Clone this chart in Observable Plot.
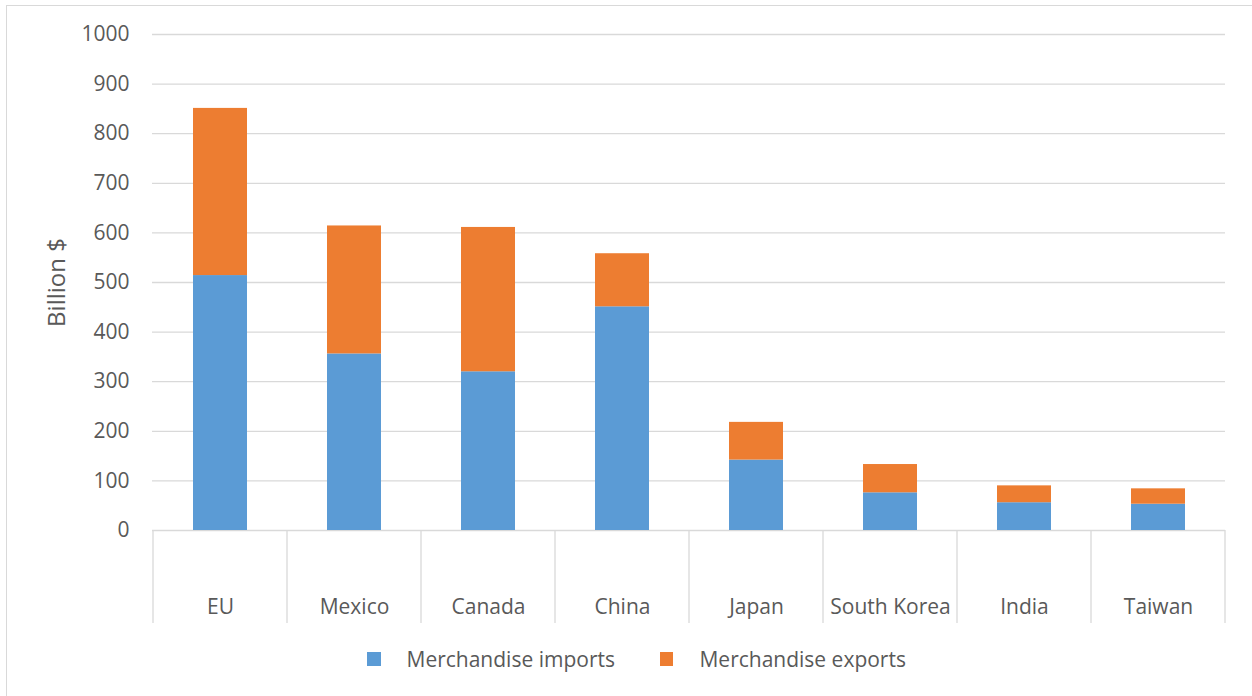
<!DOCTYPE html>
<html>
<head>
<meta charset="utf-8">
<script src="https://cdn.jsdelivr.net/npm/d3@7"></script>
<script src="https://cdn.jsdelivr.net/npm/@observablehq/plot@0.6"></script>
<style>
  html, body { margin: 0; padding: 0; background: #fff; overflow: hidden; }
  #wrap { position: relative; width: 1252px; height: 696px; overflow: hidden; font-family: "Open Sans", sans-serif; color: #595959; }
  #border { position: absolute; left: 6px; top: 5px; width: 1400px; height: 900px; border-left: 1.5px solid #d9d9d9; border-top: 1.5px solid #d9d9d9; }
  #chart { position: absolute; left: 0; top: 0; }
  #legend { position: absolute; left: 367px; top: 645px; display: flex; align-items: center; font-size: 21px; white-space: nowrap; }
  .item { display: flex; align-items: center; margin-right: 45px; }
  .sw { width: 13.5px; height: 13.5px; margin-right: 26px; }
</style>
</head>
<body>
<div id="wrap">
  <div id="border"></div>
  <div id="chart"></div>
  <div id="legend"></div>
</div>
<script>
const categories = ["EU", "Mexico", "Canada", "China", "Japan", "South Korea", "India", "Taiwan"];
const seriesNames = ["Merchandise imports", "Merchandise exports"];
const seriesColors = ["#5B9BD5", "#ED7D31"];
const imports = [514, 356, 320, 451, 142, 76, 56, 53];
const exports = [337, 258, 291, 107, 76, 57, 34, 31];
const yTicks = [0, 100, 200, 300, 400, 500, 600, 700, 800, 900, 1000];
const yLabel = "Billion $";

const data = [];
categories.forEach((c, i) => {
  data.push({country: c, series: seriesNames[0], value: imports[i]});
  data.push({country: c, series: seriesNames[1], value: exports[i]});
});

const grid = "#d9d9d9";

function separators(index, scales, values, dimensions) {
  const x = scales.x, y = scales.y;
  const bw = x.bandwidth();
  const step = x.step();
  const gap = (step - bw) / 2;
  const xs = categories.map(c => x(c) - gap);
  xs.push(x(categories[categories.length - 1]) + bw + gap);
  const y0 = y(0);
  const g = d3.create("svg:g");
  g.selectAll("line").data(xs).join("line")
    .attr("x1", d => d).attr("x2", d => d)
    .attr("y1", y0).attr("y2", y0 + 93)
    .attr("stroke", grid).attr("stroke-width", 1.3);
  return g.node();
}

const chart = Plot.plot({
  width: 1252,
  height: 640,
  marginLeft: 152,
  marginRight: 27,
  marginTop: 34,
  marginBottom: 110,
  style: {fontFamily: "Open Sans", fontSize: "21px", color: "#595959", background: "transparent"},
  x: {domain: categories, paddingInner: 0.6, paddingOuter: 0.3, label: null},
  y: {domain: [0, 1000], label: null},
  color: {domain: seriesNames, range: seriesColors},
  marks: [
    Plot.ruleY(yTicks, {y: d => d, stroke: grid, strokeWidth: 1.3}),
    Plot.barY(data, {x: "country", y: "value", fill: "series"}),
    separators,
    Plot.axisY(yTicks, {tickSize: 0, tickPadding: 23, tickFormat: d => String(d), label: null}),
    Plot.axisX({tickSize: 0, tickPadding: 69, label: null}),
    Plot.text([yLabel], {text: d => d, frameAnchor: "left", textAnchor: "middle", lineAnchor: "middle", rotate: -90, dx: -95, fontSize: 24, fill: "#595959"})
  ]
});
document.getElementById("chart").appendChild(chart);

const legend = d3.select("#legend");
seriesNames.forEach((s, i) => {
  const it = legend.append("div").attr("class", "item");
  it.append("div").attr("class", "sw").style("background", seriesColors[i]);
  it.append("span").text(s);
});
</script>
</body>
</html>
